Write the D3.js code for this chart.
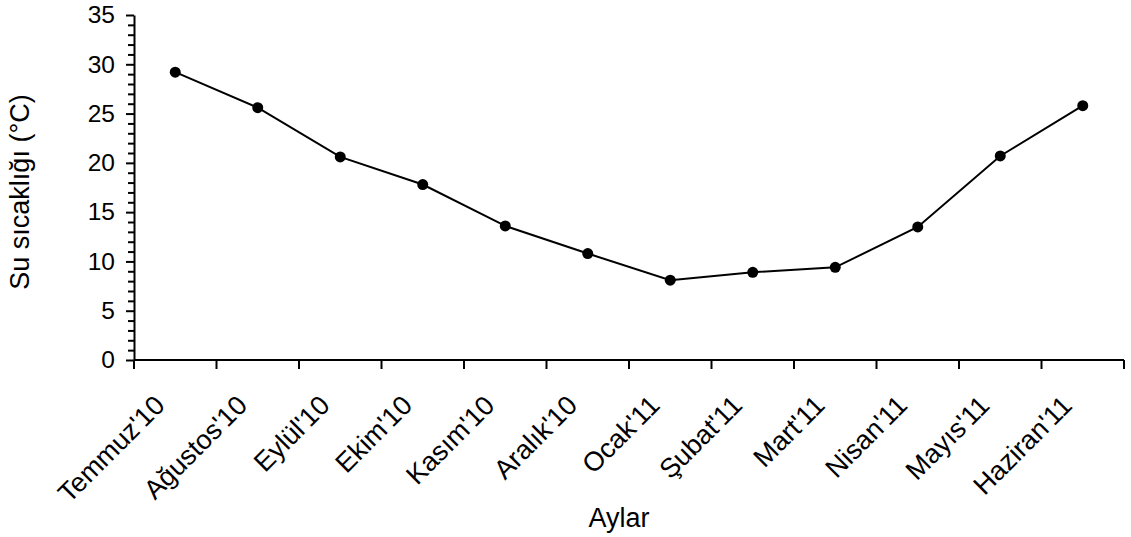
<!DOCTYPE html>
<html>
<head>
<meta charset="utf-8">
<script src="https://cdn.jsdelivr.net/npm/d3@7"></script>
<style>
  html, body { margin: 0; padding: 0; background: #fff; }
  svg { display: block; font-family: "Liberation Sans", Arial, sans-serif; }
</style>
</head>
<body>
<svg id="chart" width="1131" height="537"></svg>
<script>
// Monthly water temperature, July 2010 – June 2011
const months = ["Temmuz'10", "Ağustos'10", "Eylül'10", "Ekim'10", "Kasım'10", "Aralık'10",
                "Ocak'11", "Şubat'11", "Mart'11", "Nisan'11", "Mayıs'11", "Haziran'11"];
const temperatures = [29.2, 25.6, 20.6, 17.8, 13.6, 10.8, 8.1, 8.9, 9.4, 13.5, 20.7, 25.8];
const yMajorTicks = [0, 5, 10, 15, 20, 25, 30, 35];
const yTitle = "Su sıcaklığı (°C)";
const xTitle = "Aylar";

const svg = d3.select("#chart");
const plot = { left: 134, right: 1124, top: 15, bottom: 360 };

const x = d3.scaleBand().domain(months).range([plot.left, plot.right]).paddingInner(0).paddingOuter(0);
const y = d3.scaleLinear().domain([0, 35]).range([plot.bottom, plot.top]);

const yTickFont = 24.5;
const xTickFont = 27;
const titleFont = 27;

// Minor y ticks every 1 unit
const yMinor = d3.range(0, 36).filter(v => v % 5 !== 0);
svg.append("g")
  .attr("transform", `translate(${plot.left},0)`)
  .call(d3.axisLeft(y).tickValues(yMinor).tickSize(6).tickFormat(""))
  .call(g => g.select(".domain").remove())
  .call(g => g.selectAll("line").attr("stroke", "#000").attr("stroke-width", 2));

// Major y axis
svg.append("g")
  .attr("transform", `translate(${plot.left},0)`)
  .call(d3.axisLeft(y).tickValues(yMajorTicks).tickSize(8).tickPadding(11).tickSizeOuter(0))
  .call(g => g.select(".domain").attr("stroke", "#000").attr("stroke-width", 2))
  .call(g => g.selectAll("line").attr("stroke", "#000").attr("stroke-width", 2))
  .call(g => g.selectAll("text").attr("font-size", yTickFont).attr("fill", "#000")
                .attr("font-family", "Liberation Sans, Arial, sans-serif"));

// X axis: ticks at band boundaries
const boundaries = d3.range(months.length + 1).map(i => plot.left + i * x.bandwidth());
const xg = svg.append("g");
xg.append("line")
  .attr("x1", plot.left).attr("x2", plot.right)
  .attr("y1", y(0)).attr("y2", y(0))
  .attr("stroke", "#000").attr("stroke-width", 2);
xg.selectAll("line.tick").data(boundaries).join("line")
  .attr("class", "tick")
  .attr("x1", d => d).attr("x2", d => d)
  .attr("y1", y(0)).attr("y2", y(0) + 9)
  .attr("stroke", "#000").attr("stroke-width", 2);

// Rotated category labels
xg.selectAll("text.lbl").data(months).join("text")
  .attr("class", "lbl")
  .attr("transform", d => `translate(${x(d) + x.bandwidth() / 2 - 9},${y(0) + 47}) rotate(-45)`)
  .attr("text-anchor", "end")
  .attr("font-size", xTickFont)
  .attr("fill", "#000")
  .text(d => d);

// Line and markers
const line = d3.line()
  .x((d, i) => x(months[i]) + x.bandwidth() / 2)
  .y(d => y(d));

svg.append("path")
  .datum(temperatures)
  .attr("d", line)
  .attr("fill", "none")
  .attr("stroke", "#000")
  .attr("stroke-width", 2);

svg.selectAll("circle.pt").data(temperatures).join("circle")
  .attr("class", "pt")
  .attr("cx", (d, i) => x(months[i]) + x.bandwidth() / 2)
  .attr("cy", d => y(d))
  .attr("r", 5.5)
  .attr("fill", "#000");

// Axis titles
svg.append("text")
  .attr("transform", `translate(29,192) rotate(-90)`)
  .attr("text-anchor", "middle")
  .attr("font-size", titleFont)
  .attr("fill", "#000")
  .text(yTitle);

svg.append("text")
  .attr("x", 619).attr("y", 527)
  .attr("text-anchor", "middle")
  .attr("font-size", titleFont)
  .attr("fill", "#000")
  .text(xTitle);
</script>
</body>
</html>
